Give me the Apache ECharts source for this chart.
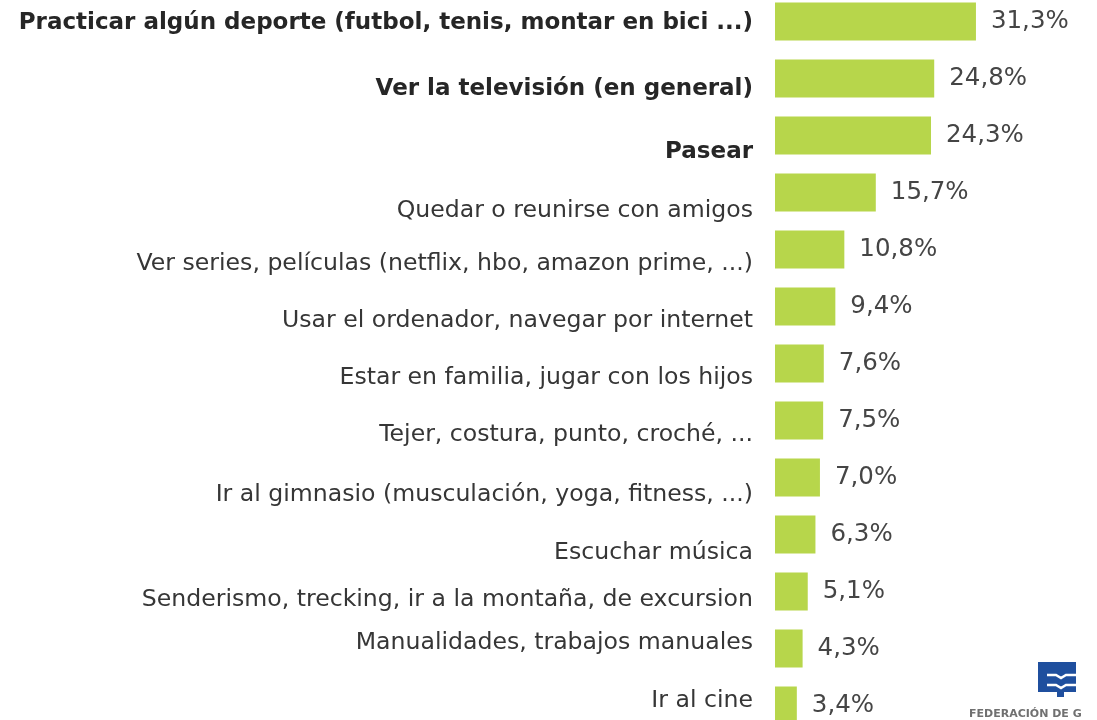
<!DOCTYPE html>
<html>
<head>
<meta charset="utf-8">
<script src="https://cdn.jsdelivr.net/npm/echarts@6/dist/echarts.min.js"></script>
<style>
  html, body { margin: 0; padding: 0; background: #fff; }
  #chart { width: 1097px; height: 720px; }
</style>
</head>
<body>
<div id="chart"></div>
<script>
// activities, top to bottom
const categories = [
  'Practicar algún deporte (futbol, tenis, montar en bici ...)',
  'Ver la televisión (en general)',
  'Pasear',
  'Quedar o reunirse con amigos',
  'Ver series, películas (netflix, hbo, amazon prime, ...)',
  'Usar el ordenador, navegar por internet',
  'Estar en familia, jugar con los hijos',
  'Tejer, costura, punto, croché, ...',
  'Ir al gimnasio (musculación, yoga, fitness, ...)',
  'Escuchar música',
  'Senderismo, trecking, ir a la montaña, de excursion',
  'Manualidades, trabajos manuales',
  'Ir al cine'
];
const values = [31.3, 24.8, 24.3, 15.7, 10.8, 9.4, 7.6, 7.5, 7.0, 6.3, 5.1, 4.3, 3.4];
const boldCount = 3; // first three labels are in bold

// the original labels don't sit exactly on the bar centre
const labelDy = [2, 11, 17, 18, 14, 14, 14, 14, 17, 18, 8, -6, -5];

const rich = {};
labelDy.forEach((dy, i) => {
  const bold = i < boldCount;
  rich['s' + i] = {
    fontFamily: 'DejaVu Sans',
    fontSize: bold ? 23 : 23.6,
    fontWeight: bold ? 'bold' : 'normal',
    color: bold ? '#262626' : '#363636',
    padding: dy >= 0 ? [dy * 2, 0, 0, 0] : [0, 0, -dy * 2, 0]
  };
});

const wave = y => ({
  type: 'polyline',
  shape: { points: [[1047, y], [1056, y], [1061, y + 3], [1066, y], [1077, y]] },
  style: { stroke: '#fff', lineWidth: 2.5, fill: null }
});

const chart = echarts.init(document.getElementById('chart'));
chart.setOption({
  animation: false,
  grid: { left: 775, top: -7, width: 321, height: 741, outerBoundsMode: 'none' },
  xAxis: {
    type: 'value',
    min: 0,
    max: 50,
    show: false
  },
  yAxis: {
    type: 'category',
    inverse: true,
    data: categories,
    axisLine: { show: false },
    axisTick: { show: false },
    splitLine: { show: false },
    axisLabel: {
      margin: 22,
      formatter: (v, i) => '{s' + i + '|' + v + '}',
      rich: rich
    }
  },
  series: [{
    type: 'bar',
    data: values,
    barWidth: 38,
    itemStyle: { color: '#b7d64b' },
    label: {
      show: true,
      position: 'right',
      distance: 15,
      fontFamily: 'DejaVu Sans',
      fontSize: 24.5,
      color: '#454545',
      formatter: p => p.value.toFixed(1).replace('.', ',') + '%'
    }
  }],
  graphic: [
    // small logo in the corner
    { type: 'rect', shape: { x: 1038, y: 662, width: 38, height: 30 }, style: { fill: '#1f4f9e' } },
    { type: 'rect', shape: { x: 1057, y: 692, width: 7, height: 5 }, style: { fill: '#1f4f9e' } },
    wave(675),
    wave(685),
    {
      type: 'text', left: 969, top: 709,
      style: { text: 'FEDERACIÓN DE G', font: 'bold 11px "DejaVu Sans"', fill: '#707070' }
    }
  ]
});
</script>
</body>
</html>
